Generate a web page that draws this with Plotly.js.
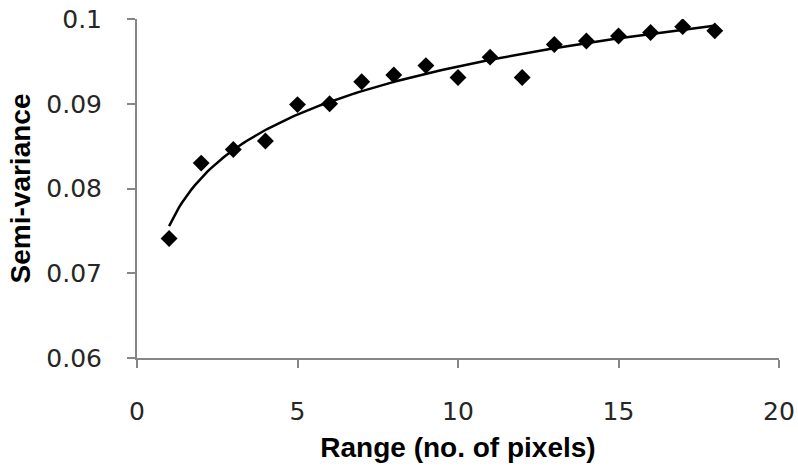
<!DOCTYPE html>
<html>
<head>
<meta charset="utf-8">
<script src="https://cdn.plot.ly/plotly-3.0.1.min.js"></script>
<style>html,body{margin:0;padding:0;background:#fff;}#chart{width:798px;height:468px;}</style>
</head>
<body>
<div id="chart"></div>
<script>
// Data
const rangePixels = [1, 2, 3, 4, 5, 6, 7, 8, 9, 10, 11, 12, 13, 14, 15, 16, 17, 18];
const semiVariance = [0.0741, 0.0830, 0.0846, 0.0856, 0.0899, 0.0900, 0.0926, 0.0934, 0.0945, 0.0931, 0.0955, 0.0931, 0.0970, 0.0974, 0.0980, 0.0984, 0.0991, 0.0986];
const xTicks = [0, 5, 10, 15, 20];
const yTicks = [0.06, 0.07, 0.08, 0.09, 0.1];
const yTickLabels = ['0.06', '0.07', '0.08', '0.09', '0.1'];

// Logarithmic trend line (least squares fit of y = a*ln(x) + b), as in the spreadsheet trendline
const lnX = rangePixels.map(v => Math.log(v));
const n = lnX.length;
const mx = lnX.reduce((s, v) => s + v, 0) / n;
const my = semiVariance.reduce((s, v) => s + v, 0) / n;
let sxy = 0, sxx = 0;
for (let i = 0; i < n; i++) { sxy += (lnX[i] - mx) * (semiVariance[i] - my); sxx += (lnX[i] - mx) ** 2; }
const a = sxy / sxx, b = my - a * mx;
const trendX = [];
for (let i = 0; i <= 170; i++) trendX.push(1 + i * 0.1);
const trendY = trendX.map(x => a * Math.log(x) + b);

const data = [
  {x: trendX, y: trendY, mode: 'lines', line: {color: '#000', width: 2.5}, hoverinfo: 'skip', showlegend: false},
  {x: rangePixels, y: semiVariance, mode: 'markers', marker: {symbol: 'diamond', size: 13, color: '#000'}, showlegend: false}
];

const tickFont = {family: 'DejaVu Sans, sans-serif', size: 25, color: '#262626'};
const titleFont = {family: 'Liberation Sans, Arial, sans-serif', size: 28, color: '#000', weight: 'bold'};

const layout = {
  width: 798, height: 468,
  margin: {l: 137, r: 19, t: 19, b: 110},
  paper_bgcolor: '#fff', plot_bgcolor: '#fff',
  showlegend: false,
  xaxis: {
    range: [0, 20], tickvals: xTicks, ticktext: xTicks.map(String),
    showgrid: false, zeroline: false,
    showline: true, linecolor: '#868686', linewidth: 2,
    ticks: 'outside', ticklen: 8, tickwidth: 2, tickcolor: '#868686',
    tickfont: tickFont, ticklabelstandoff: 22,
    title: {text: 'Range (no. of pixels)', font: titleFont, standoff: 12}
  },
  yaxis: {
    range: [0.06, 0.1], tickvals: yTicks, ticktext: yTickLabels,
    showgrid: false, zeroline: false,
    showline: true, linecolor: '#868686', linewidth: 2,
    ticks: 'outside', ticklen: 8, tickwidth: 2, tickcolor: '#868686',
    tickfont: tickFont, ticklabelstandoff: 20,
    title: {text: 'Semi-variance', font: titleFont, standoff: 8}
  }
};

Plotly.newPlot('chart', data, layout, {displayModeBar: false, staticPlot: true});
</script>
</body>
</html>
